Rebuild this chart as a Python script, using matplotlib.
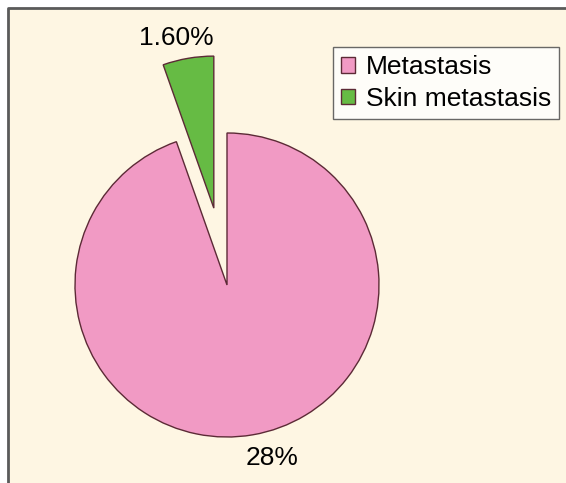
import matplotlib.pyplot as plt
from matplotlib.patches import Rectangle

plt.rcParams['font.family'] = ['Liberation Sans', 'DejaVu Sans']

# data
categories = ["Metastasis", "Skin metastasis"]
values = [28, 1.6]
labels = ["28%", "1.60%"]
colors = ["#F19AC4", "#66BB44"]

W, H = 566, 483
fig = plt.figure(figsize=(W / 100, H / 100), dpi=100, facecolor="white")
ax = fig.add_axes([0, 0, 1, 1])

# parchment panel with grey left/top border
ax.add_patch(Rectangle((8, 0), W - 8, H - 8, facecolor="#FEF6E3",
                       edgecolor="none", zorder=0))
ax.plot([8, 8, W], [0, H - 8, H - 8], color="#5a5a5a", lw=2, zorder=1,
        solid_capstyle="butt")

wedges, texts = ax.pie(values, labels=labels, colors=colors,
                       startangle=90, counterclock=False,
                       center=(227, 198), radius=152,
                       explode=[0, 78], labeldistance=1.17,
                       wedgeprops=dict(edgecolor="#5c2a36", linewidth=1),
                       textprops=dict(fontsize=19, color="black"),
                       frame=True)
ax.set_xlim(0, W)
ax.set_ylim(0, H)
ax.set_aspect("equal")
ax.axis("off")
for t in texts:
    t.set_horizontalalignment("center")
    t.set_verticalalignment("center")
# Excel puts the big label a little right of the bisector
x0, y0 = texts[0].get_position()
texts[0].set_position((x0 + 15, y0 + 2))
x1, y1 = texts[1].get_position()
texts[1].set_position((x1 - 7, y1 - 5))
for w in wedges:
    w.set_zorder(3)

leg = ax.legend(wedges, categories, loc="upper left",
                bbox_to_anchor=(333 / W, 1 - 47 / H),
                bbox_transform=fig.transFigure,
                fontsize=19, frameon=True, fancybox=False,
                handlelength=0.55, handleheight=0.55, handletextpad=0.4,
                borderpad=0.3, labelspacing=0.3, borderaxespad=0)
leg.get_frame().set_edgecolor("#444444")
leg.get_frame().set_linewidth(1)
leg.get_frame().set_facecolor("white")
leg.set_zorder(5)

fig.savefig("out.png", dpi=100, facecolor="white")
